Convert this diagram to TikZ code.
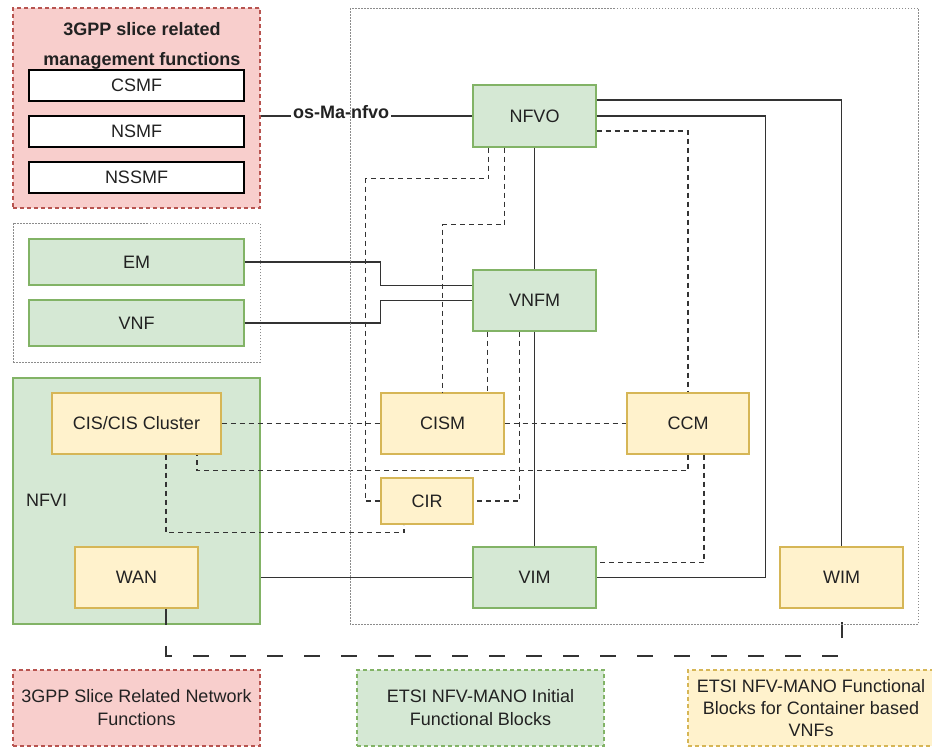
\documentclass[tikz,border=0pt]{standalone}
\usepackage{fontspec}
\setmainfont{Liberation Sans}
\usetikzlibrary{calc}
\definecolor{rfill}{HTML}{F8CECC}
\definecolor{rline}{HTML}{B85450}
\definecolor{gfill}{HTML}{D5E8D4}
\definecolor{gline}{HTML}{82B366}
\definecolor{yfill}{HTML}{FFF2CC}
\definecolor{yline}{HTML}{D6B656}
\definecolor{edge}{HTML}{333333}
\definecolor{txt}{HTML}{222222}
\definecolor{dotc}{HTML}{8C8C8C}
\newcommand{\nf}{\fontsize{18}{22}\selectfont}
\tikzset{
  base/.style={draw, line width=1.2pt, inner sep=0pt, font=\nf, text=txt, align=center},
  gbox/.style={base, fill=gfill, draw=gline},
  ybox/.style={base, fill=yfill, draw=yline},
  wbox/.style={base, fill=white, draw=black},
  conn/.style={line width=1.5pt, draw=edge},
  dconn/.style={conn, dash pattern=on 5pt off 4pt},
  ldconn/.style={conn, line width=2pt, dash pattern=on 16pt off 21pt},
  dotbox/.style={draw=dotc, line width=1pt, dash pattern=on 1.5pt off 1.5pt},
  legend/.style={base, dash pattern=on 4pt off 3pt, font=\fontsize{18}{23}\selectfont},
}
\begin{document}
\begin{tikzpicture}[x=1pt,y=-1pt]
\useasboundingbox (0,0) rectangle (932,747);
\fill[white] (0,0) rectangle (932,747);

% groups
\node[base, fill=rfill, draw=rline, dash pattern=on 4pt off 3pt, minimum width=247pt, minimum height=200pt] (pink) at (136.5,108) {};
\node[font=\bfseries\fontsize{18}{30}\selectfont, text=txt, align=center, inner sep=0pt] (ptitle) at (142,46) {3GPP slice related\\management functions};
\node[wbox, minimum width=215pt, minimum height=31pt] (csmf) at (136.5,85.5) {CSMF};
\node[wbox, minimum width=215pt, minimum height=31pt] (nsmf) at (136.5,131.5) {NSMF};
\node[wbox, minimum width=215pt, minimum height=31pt] (nssmf) at (136.5,177.5) {NSSMF};

\node[dotbox, minimum width=247pt, minimum height=139pt, inner sep=0pt] (vgrp) at (136.5,292.5) {};
\node[gbox, minimum width=215pt, minimum height=46pt] (em) at (136.5,262) {EM};
\node[gbox, minimum width=215pt, minimum height=46pt] (vnf) at (136.5,323) {VNF};

\node[gbox, minimum width=247pt, minimum height=246pt] (nfvi) at (136.5,501) {};
\node[font=\nf, text=txt, anchor=west, inner sep=0pt] (nfvilbl) at (26,500) {NFVI};
\node[ybox, minimum width=169pt, minimum height=61pt] (cis) at (136.5,423.5) {CIS/CIS Cluster};
\node[ybox, minimum width=123pt, minimum height=61pt] (wan) at (136.5,577.5) {WAN};

% MANO blocks
\node[gbox, minimum width=123pt, minimum height=62pt] (nfvo) at (534.5,116) {NFVO};
\node[gbox, minimum width=123pt, minimum height=61pt] (vnfm) at (534.5,300.5) {VNFM};
\node[ybox, minimum width=123pt, minimum height=61pt] (cism) at (442.5,423.5) {CISM};
\node[ybox, minimum width=122pt, minimum height=61pt] (ccm) at (688,423.5) {CCM};
\node[ybox, minimum width=92pt, minimum height=46pt] (cir) at (427,501) {CIR};
\node[gbox, minimum width=123pt, minimum height=61pt] (vim) at (534.5,577.5) {VIM};
\node[ybox, minimum width=123pt, minimum height=61pt] (wim) at (841.5,577.5) {WIM};

% connectors
\draw[conn] (pink.east |- nfvo.west) -- node[pos=0.38, fill=white, inner sep=2pt, font=\bfseries\nf, text=txt, yshift=4pt] {os-Ma-nfvo} (nfvo.west);
\draw[conn] ([yshift=16pt]nfvo.east) -| (wim.north);
\draw[conn] (nfvo.east) -- ++(169,0) |- (vim.east);
\draw[dconn] ([yshift=-15pt]nfvo.east) -| (ccm.north);
\draw[dconn] ([xshift=-46pt]nfvo.south) -- ++(0,31) -| ([xshift=-15pt]cir.west) -- (cir.west);
\draw[dconn] ([xshift=-30pt]nfvo.south) -- ++(0,77) -| (cism.north);
\draw[conn] (nfvo.south) -- (vnfm.north);
\draw[dconn] ([xshift=-47pt]vnfm.south) -- ([xshift=-47pt]vnfm.south |- cism.north);
\draw[dconn] ([xshift=-15pt]vnfm.south) |- (cir.east);
\draw[conn] (vnfm.south) -- (vim.north);
\draw[conn] (em.east) -- ++(136,0) |- ([yshift=15pt]vnfm.west);
\draw[conn] (vnf.east) -- ++(136,0) |- (vnfm.west);
\draw[dconn] (cis.east) -- (cism.west);
\draw[dconn] (cism.east) -- (ccm.west);
\draw[dconn] (ccm.south) -- ++(0,16) -| ([xshift=60.5pt]cis.south);
\draw[dconn] ([xshift=29.5pt]cis.south) -- ++(0,78) -| ([xshift=-23pt]cir.south);
\draw[dconn] ([xshift=16pt]ccm.south) |- ([yshift=15pt]vim.east);
\draw[conn] (vim.west) -- (nfvi.east |- vim.west);
\draw[ldconn] ([xshift=29.5pt]wan.south) -- ++(0,47) -| (wim.south);

% big dotted frame
\draw[dotbox] (350,8) rectangle (918,624);

% legend
\node[legend, fill=rfill, draw=rline, minimum width=247pt, minimum height=76pt] (leg1) at (136.5,708) {3GPP Slice Related Network\\Functions};
\node[legend, fill=gfill, draw=gline, minimum width=247pt, minimum height=76pt] (leg2) at (480.5,708) {ETSI NFV-MANO Initial\\Functional Blocks};
\node[legend, fill=yfill, draw=yline, minimum width=246pt, minimum height=76pt, font=\fontsize{18}{22}\selectfont] (leg3) at (811,708) {ETSI NFV-MANO Functional\\Blocks for Container based\\VNFs};
\end{tikzpicture}
\end{document}
